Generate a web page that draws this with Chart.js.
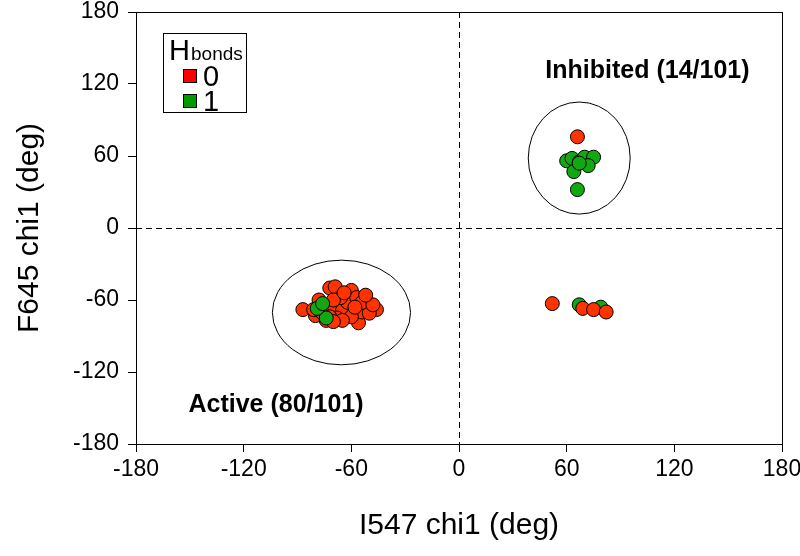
<!DOCTYPE html>
<html lang="en">
<head>
  <meta charset="UTF-8">
  <title>Chi1 scatter</title>
  <script src="https://cdn.jsdelivr.net/npm/chart.js"></script>
  <style>
    body { margin: 0; background: #fff; }
    #wrap { width: 800px; height: 556px; }
  </style>
</head>
<body>
  <div id="wrap"><canvas id="scatterCanvas"></canvas></div>

  <script>
    // tick labels (deg)
    const tickValues = [-180, -120, -60, 0, 60, 120, 180];

    // Active cluster, Hbonds = 0
    const activeHb0X = [-87, -80, -72, -69, -60, -46, -56, -71, -65, -62, -54, -76, -51, -68, -74,
                        -57, -66, -78, -50, -60, -65, -70, -54, -81, -58, -72, -48, -64, -52, -70];
    const activeHb0Y = [-68, -73, -50, -49, -52, -68, -79, -68, -69, -62, -70, -71, -63, -75, -77,
                        -58, -58, -60, -71, -74, -77, -60, -62, -68, -66, -74, -64, -54, -56, -78];
    // Active cluster, Hbonds = 1
    const activeHb1X = [-74, -79, -76];
    const activeHb1Y = [-75, -67, -63];

    // Inhibited cluster
    const inhibHb0X = [66, 71];
    const inhibHb0Y = [76, 56];
    const inhibHb1X = [60, 63, 67, 70, 75, 72, 64, 66, 67];
    const inhibHb1Y = [56, 58, 55, 59, 59, 52, 47, 32, 54];

    // remaining frames
    const otherHb0X = [52, 69, 75, 82];
    const otherHb0Y = [-63, -67, -68, -70];
    const otherHb1X = [67, 79];
    const otherHb1Y = [-64, -66];

    const legendLabels = ['0', '1'];

    const RED = '#ff3300';
    const GREEN = '#11a811';
    const FONT = "Arial, 'Liberation Sans', sans-serif";

    function pts(xs, ys) {
      return xs.map((x, i) => ({ x: x, y: ys[i] }));
    }

    function makeSet(label, xs, ys, color, order) {
      return {
        label: label,
        data: pts(xs, ys),
        backgroundColor: color,
        borderColor: '#000',
        borderWidth: 1,
        pointRadius: 7,
        pointHoverRadius: 7,
        order: order
      };
    }

    // snap to pixel centre so 1px lines stay crisp
    const crisp = v => Math.round(v) + 0.5;

    // frame, dashed zero lines, cluster ellipses
    const backdrop = {
      id: 'backdrop',
      beforeDatasetsDraw(chart) {
        const { ctx, chartArea: a, scales: { x, y } } = chart;
        ctx.save();
        ctx.strokeStyle = '#000';
        ctx.lineWidth = 1;

        const x0 = crisp(x.getPixelForValue(0));
        const y0 = crisp(y.getPixelForValue(0));
        ctx.setLineDash([6, 4]);
        ctx.beginPath();
        ctx.moveTo(x0, a.top);
        ctx.lineTo(x0, a.bottom);
        ctx.moveTo(a.left, y0);
        ctx.lineTo(a.right, y0);
        ctx.stroke();
        ctx.setLineDash([]);

        ctx.strokeRect(crisp(a.left), crisp(a.top),
          Math.round(a.right - a.left), Math.round(a.bottom - a.top));

        // ellipses: [cx, cy, rx, ry] in degrees
        [[-65.5, -70.4, 38.5, 43.6], [67, 58.3, 28.4, 46.7]].forEach(e => {
          const px = x.getPixelForValue(e[0]);
          const py = y.getPixelForValue(e[1]);
          const rx = Math.abs(x.getPixelForValue(e[0] + e[2]) - px);
          const ry = Math.abs(y.getPixelForValue(e[1] + e[3]) - py);
          ctx.beginPath();
          ctx.ellipse(px, py, rx, ry, 0, 0, Math.PI * 2);
          ctx.stroke();
        });
        ctx.restore();
      },
      afterDraw(chart) {
        const { ctx, chartArea: a, scales: { x, y } } = chart;
        ctx.save();
        ctx.fillStyle = '#000';
        ctx.textAlign = 'center';
        ctx.textBaseline = 'middle';
        ctx.font = 'bold 25px ' + FONT;
        ctx.fillText('Inhibited (14/101)', x.getPixelForValue(105), y.getPixelForValue(131));
        ctx.fillText('Active (80/101)', x.getPixelForValue(-102), y.getPixelForValue(-148));

        // legend box
        const lx = Math.round(a.left) + 27, ly = Math.round(a.top) + 21;
        ctx.lineWidth = 1;
        ctx.strokeStyle = '#000';
        ctx.strokeRect(lx + 0.5, ly + 0.5, 83, 79);
        ctx.textAlign = 'left';
        ctx.textBaseline = 'alphabetic';
        ctx.font = '29px ' + FONT;
        ctx.fillText('H', lx + 6, ly + 27);
        ctx.font = '19px ' + FONT;
        ctx.fillText('bonds', lx + 28, ly + 27);
        ['#ff0000', '#009900'].forEach((c, i) => {
          const sy = ly + 36 + i * 25;
          ctx.fillStyle = c;
          ctx.fillRect(lx + 20, sy, 13, 13);
          ctx.strokeRect(lx + 20.5, sy + 0.5, 13, 13);
          ctx.fillStyle = '#000';
          ctx.font = '29px ' + FONT;
          ctx.fillText(legendLabels[i], lx + 40, sy + 17);
        });
        ctx.restore();
      }
    };

    new Chart(document.getElementById('scatterCanvas').getContext('2d'), {
      type: 'scatter',
      data: {
        datasets: [
          makeSet('Active Hbonds 0', activeHb0X, activeHb0Y, RED, 2),
          makeSet('Active Hbonds 1', activeHb1X, activeHb1Y, GREEN, 1),
          makeSet('Inhibited Hbonds 0', inhibHb0X, inhibHb0Y, RED, 4),
          makeSet('Inhibited Hbonds 1', inhibHb1X, inhibHb1Y, GREEN, 3),
          makeSet('Other Hbonds 0', otherHb0X, otherHb0Y, RED, 5),
          makeSet('Other Hbonds 1', otherHb1X, otherHb1Y, GREEN, 6)
        ]
      },
      options: {
        responsive: true,
        maintainAspectRatio: false,
        animation: false,
        layout: { padding: { top: 12, right: 18, left: 0, bottom: 0 } },
        plugins: {
          legend: { display: false },
          tooltip: { enabled: false }
        },
        scales: {
          x: {
            type: 'linear',
            min: -180,
            max: 180,
            afterFit(scale) {
              scale.height = 112;
              scale.paddingLeft = 0;
              scale.paddingRight = 0;
            },
            afterBuildTicks(scale) { scale.ticks = tickValues.map(v => ({ value: v })); },
            grid: { drawOnChartArea: false, drawTicks: true, tickLength: 8, color: '#000' },
            border: { display: true, color: '#000' },
            ticks: { color: '#000', padding: 4, font: { family: FONT, size: 23 } },
            title: {
              display: true,
              text: 'I547 chi1 (deg)',
              color: '#000',
              padding: { top: 0, bottom: 12 },
              font: { family: FONT, size: 30 }
            }
          },
          y: {
            type: 'linear',
            min: -180,
            max: 180,
            afterFit(scale) {
              scale.width = 136;
              scale.paddingTop = 0;
              scale.paddingBottom = 0;
            },
            afterBuildTicks(scale) { scale.ticks = tickValues.map(v => ({ value: v })); },
            grid: { drawOnChartArea: false, drawTicks: true, tickLength: 8, color: '#000' },
            border: { display: true, color: '#000' },
            ticks: { color: '#000', padding: 9, font: { family: FONT, size: 23 } },
            title: {
              display: true,
              text: 'F645 chi1 (deg)',
              color: '#000',
              padding: { top: 12, bottom: 0 },
              font: { family: FONT, size: 30 }
            }
          }
        }
      },
      plugins: [backdrop]
    });
  </script>
</body>
</html>
